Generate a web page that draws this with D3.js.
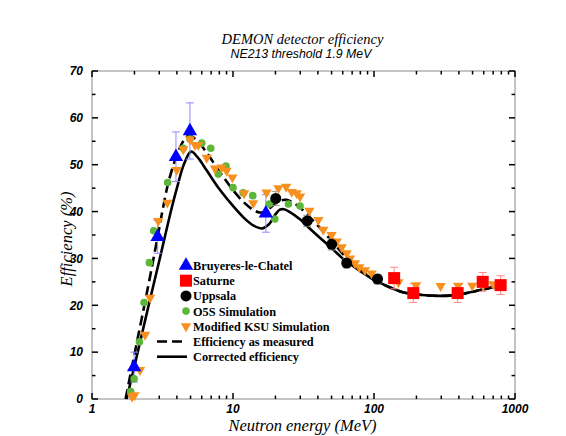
<!DOCTYPE html>
<html><head><meta charset="utf-8">
<script src="https://cdn.jsdelivr.net/npm/d3@7"></script>
<style>body{margin:0;background:#fff}svg{display:block}</style>
</head><body>
<svg id="c" width="566" height="436"></svg>
<script>
const titleText = "DEMON detector efficiency";
const subtitleText = "NE213 threshold 1.9 MeV";
const xTitle = "Neutron energy (MeV)";
const yTitle = "Efficiency (%)";
const xTickValues = [1, 10, 100, 1000];
const yTickValues = [0, 10, 20, 30, 40, 50, 60, 70];

const bruyeresE = [1.99, 2.92, 3.94, 4.95, 17.1];
const bruyeresEff = [6.8, 34.6, 51.7, 57.2, 39.6];
const bruyeresErr = [3.2, 3.5, 5.3, 6.0, 4.0];

const saturneE = [139, 190, 392, 590, 791];
const saturneEff = [25.8, 22.6, 22.6, 25.0, 24.3];
const saturneErr = [2.3, 2.0, 2.0, 2.0, 2.0];

const uppsalaE = [20.1, 33.6, 50.1, 64, 106];
const uppsalaEff = [42.8, 38.0, 33.0, 29.0, 25.6];
const uppsalaErr = [1.5, 1.2, 1.2, 1.0, 1.0];

const o5sE = [1.88, 1.99, 2.17, 2.34, 2.55, 2.74, 3.44, 4.44, 4.95, 6.0, 6.95, 7.87, 8.92, 10.0, 11.8, 13.8, 18.1, 19.8, 24.7, 29.9];
const o5sEff = [1.6, 4.3, 12.2, 20.6, 29.1, 35.9, 46.2, 53.5, 55.5, 54.6, 53.5, 48.0, 49.7, 45.1, 44.0, 43.4, 41.6, 38.4, 41.6, 41.2];

const ksuE = [1.92, 2.0, 2.19, 2.38, 2.58, 2.95, 3.42, 3.99, 4.44, 4.95, 5.38, 5.67, 6.51, 7.45, 8.31, 9.0, 9.9, 12.0, 13.9, 17.3, 21.0, 23.8, 26.1, 28.3, 29.9, 34.8, 40.3, 43.7, 50, 54.4, 59, 64, 67.6, 73.3, 78.7, 86.3, 96.3, 149, 199, 297, 396, 498, 596, 702];
const ksuEff = [0.5, 0.8, 6.2, 13.7, 21.6, 38.0, 41.9, 48.9, 53.3, 55.4, 54.2, 54.2, 51.5, 49.2, 49.4, 48.7, 47.3, 43.9, 41.8, 44.1, 45.0, 45.3, 44.2, 43.9, 43.2, 40.2, 38.2, 36.1, 35.0, 33.6, 32.4, 31.1, 30.0, 29.0, 28.1, 27.5, 26.8, 24.9, 24.3, 24.1, 24.2, 24.2, 24.3, 24.5];

const measE = [1.73, 2.0, 2.5, 2.92, 3.2, 3.5, 4.0, 4.5, 4.9, 5.5, 6.5, 8, 10, 12, 14, 15.5, 17, 19, 21.5, 24, 27, 30, 35, 40, 50, 60, 70, 80, 93, 100, 130, 160, 200, 300, 400, 500, 600, 800];
const measEff = [0, 9.5, 24, 34.6, 41, 46.5, 52, 55.3, 56.2, 55.3, 52.6, 48.6, 44.6, 41.9, 40.3, 39.8, 40.0, 41.2, 42.3, 42.5, 41.8, 40.8, 38.8, 37.0, 33.8, 31.0, 29.0, 27.6, 26.2, 25.5, 23.8, 22.8, 22.3, 22.0, 22.3, 22.9, 23.4, 24.3];

const corrE = [1.76, 2.0, 2.5, 3.0, 3.67, 4.0, 4.5, 5.04, 5.6, 6.5, 8, 10, 12, 14, 16, 18, 20, 21.5, 23, 25, 30, 35, 40, 50, 60, 70, 80, 93, 100, 130, 160, 200, 300, 400, 500, 600, 800];
const corrEff = [0, 7, 19.5, 29.5, 40.7, 45, 50.2, 52.8, 51.6, 48.8, 44.8, 41.2, 38.6, 37.0, 36.4, 37.3, 39.4, 40.4, 40.5, 40.0, 38.3, 36.4, 34.8, 32.2, 30.0, 28.5, 27.3, 26.0, 25.4, 23.8, 22.8, 22.3, 22.0, 22.3, 22.9, 23.4, 24.3];

const legendLabels = ["Bruyeres-le-Chatel", "Saturne", "Uppsala", "O5S Simulation", "Modified KSU Simulation", "Efficiency as measured", "Corrected efficiency"];

const svg = d3.select("#c");
const L = 92, R = 515, T = 71, B = 399;
const x = d3.scaleLog().domain([1, 1000]).range([L, R]);
const y = d3.scaleLinear().domain([0, 70]).range([B, T]);

const zip = (a, b, c) => a.map((v, i) => ({e: v, v: b[i], err: c ? c[i] : 0}));
const SERIF = "Liberation Serif, Times New Roman, Times, serif";
const SANS = "Liberation Sans, Arial, Helvetica, sans-serif";
function txt(g, x0, y0, s, fam, size, style, weight, anchor) {
  return g.append("text").attr("x", x0).attr("y", y0).attr("text-anchor", anchor || "start")
    .attr("font-family", fam).attr("font-size", size).attr("font-style", style || "normal")
    .attr("font-weight", weight || "normal").attr("fill", "#000").text(s);
}

// titles
txt(svg, 302.5, 44, titleText, SERIF, 14.5, "italic", "normal", "middle");
txt(svg, 301, 57.5, subtitleText, SANS, 12.3, "italic", "normal", "middle");

// axes frame
const axisG = svg.append("g");
axisG.append("rect").attr("x", L).attr("y", T).attr("width", R - L).attr("height", B - T)
  .attr("fill", "none").attr("stroke", "#8a8a8a").attr("stroke-width", 1);

const xMinor = [];
for (let d = 1; d < 1000; d *= 10) for (let k = 2; k <= 9; k++) xMinor.push(d * k);
const tickStyle = s => s.attr("stroke", "#000").attr("stroke-width", 1.5);
xTickValues.forEach(v => {
  tickStyle(axisG.append("line").attr("x1", x(v)).attr("x2", x(v)).attr("y1", B).attr("y2", B - 6));
  tickStyle(axisG.append("line").attr("x1", x(v)).attr("x2", x(v)).attr("y1", T).attr("y2", T + 6));
});
xMinor.forEach(v => {
  tickStyle(axisG.append("line").attr("x1", x(v)).attr("x2", x(v)).attr("y1", B).attr("y2", B - 3.5));
  tickStyle(axisG.append("line").attr("x1", x(v)).attr("x2", x(v)).attr("y1", T).attr("y2", T + 3.5));
});
yTickValues.forEach(v => {
  tickStyle(axisG.append("line").attr("x1", L).attr("x2", L + 6).attr("y1", y(v)).attr("y2", y(v)));
  tickStyle(axisG.append("line").attr("x1", R).attr("x2", R - 6).attr("y1", y(v)).attr("y2", y(v)));
});
d3.range(5, 70, 10).forEach(v => {
  tickStyle(axisG.append("line").attr("x1", L).attr("x2", L + 3.5).attr("y1", y(v)).attr("y2", y(v)));
  tickStyle(axisG.append("line").attr("x1", R).attr("x2", R - 3.5).attr("y1", y(v)).attr("y2", y(v)));
});
xTickValues.forEach(v => txt(axisG, x(v), 413, v, SANS, 12, "italic", "bold", "middle"));
yTickValues.forEach(v => txt(axisG, 83, y(v) + 4.3, v, SANS, 12, "italic", "bold", "end"));
txt(svg, 302.5, 431, xTitle, SERIF, 16.5, "italic", "normal", "middle");
txt(svg, 0, 0, yTitle, SERIF, 16.5, "italic", "normal", "middle").attr("transform", "translate(71.5,239) rotate(-90)");

// curves
const line = d3.line().x(d => x(d.e)).y(d => y(d.v)).curve(d3.curveCatmullRom.alpha(0.5));
svg.append("path").attr("d", line(zip(corrE, corrEff))).attr("fill", "none")
  .attr("stroke", "#000").attr("stroke-width", 2.6);
svg.append("path").attr("d", line(zip(measE, measEff))).attr("fill", "none")
  .attr("stroke", "#000").attr("stroke-width", 2.6).attr("stroke-dasharray", "10,5");

// error bars
function errBars(data, color) {
  const g = svg.append("g").attr("stroke", color).attr("stroke-width", 1);
  data.forEach(d => {
    const cx = x(d.e);
    g.append("line").attr("x1", cx).attr("x2", cx).attr("y1", y(d.v + d.err)).attr("y2", y(d.v - d.err));
    g.append("line").attr("x1", cx - 4).attr("x2", cx + 4).attr("y1", y(d.v + d.err)).attr("y2", y(d.v + d.err));
    g.append("line").attr("x1", cx - 4).attr("x2", cx + 4).attr("y1", y(d.v - d.err)).attr("y2", y(d.v - d.err));
  });
}
const bData = zip(bruyeresE, bruyeresEff, bruyeresErr);
const sData = zip(saturneE, saturneEff, saturneErr);
const uData = zip(uppsalaE, uppsalaEff, uppsalaErr);
errBars(bData, "#8c8cff");
errBars(sData, "#ff8a8a");
errBars(uData, "#999");

const sym = (type, size) => d3.symbol().type(type).size(size)();
const downTri = d3.symbol().type(d3.symbolTriangle).size(46)();
function markers(data, drawFn) { data.forEach(d => drawFn(x(d.e), y(d.v))); }

markers(zip(o5sE, o5sEff), (cx, cy) => svg.append("circle").attr("cx", cx).attr("cy", cy).attr("r", 3.8).attr("fill", "#5db53a"));
markers(zip(ksuE, ksuEff), (cx, cy) => svg.append("path").attr("d", downTri)
  .attr("transform", `translate(${cx},${cy}) rotate(180)`).attr("fill", "#f7901e"));
markers(uData, (cx, cy) => svg.append("circle").attr("cx", cx).attr("cy", cy).attr("r", 5.5).attr("fill", "#000"));
markers(sData, (cx, cy) => svg.append("rect").attr("x", cx - 6).attr("y", cy - 6).attr("width", 12).attr("height", 12).attr("fill", "#f00"));
markers(bData, (cx, cy) => svg.append("path").attr("d", sym(d3.symbolTriangle, 90))
  .attr("transform", `translate(${cx},${cy})`).attr("fill", "#0000ff"));

// legend
const lg = svg.append("g");
const lx = 186, ly0 = 265.5, dy = 15.2;
legendLabels.forEach((t, i) => txt(lg, 193, ly0 + i * dy + 4.5, t, SERIF, 12.3, "normal", "bold"));
lg.append("path").attr("d", sym(d3.symbolTriangle, 90)).attr("transform", `translate(${lx},${ly0})`).attr("fill", "#0000ff");
lg.append("rect").attr("x", lx - 6).attr("y", ly0 + dy - 6).attr("width", 12).attr("height", 12).attr("fill", "#f00");
lg.append("circle").attr("cx", lx).attr("cy", ly0 + 2 * dy).attr("r", 5.5).attr("fill", "#000");
lg.append("circle").attr("cx", lx).attr("cy", ly0 + 3 * dy).attr("r", 3.8).attr("fill", "#5db53a");
lg.append("path").attr("d", downTri).attr("transform", `translate(${lx},${ly0 + 4 * dy}) rotate(180)`).attr("fill", "#f7901e");
lg.append("line").attr("x1", 157).attr("x2", 187).attr("y1", ly0 + 5 * dy).attr("y2", ly0 + 5 * dy)
  .attr("stroke", "#000").attr("stroke-width", 2.6).attr("stroke-dasharray", "10,5");
lg.append("line").attr("x1", 157).attr("x2", 187).attr("y1", ly0 + 6 * dy).attr("y2", ly0 + 6 * dy)
  .attr("stroke", "#000").attr("stroke-width", 2.6);
</script>
</body></html>
